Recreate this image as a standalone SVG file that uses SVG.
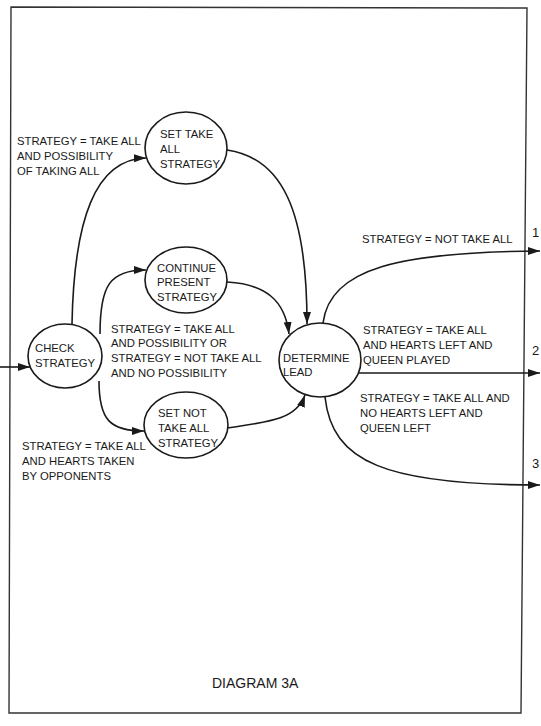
<svg xmlns="http://www.w3.org/2000/svg" width="541" height="726" viewBox="0 0 541 726">
<style>
text{font-family:"Liberation Sans",Arial,sans-serif;font-size:11.3px;fill:#1a1a1a}
.n{fill:#fff;stroke:#1a1a1a;stroke-width:1.6}
.c{fill:none;stroke:#1a1a1a;stroke-width:1.6}
.big{font-size:14px}
.num{font-size:13px}
</style>
<defs>
<marker id="ah" markerUnits="userSpaceOnUse" markerWidth="13" markerHeight="9" refX="12" refY="4" orient="auto">
<path d="M0,0 L12,4 L0,8 z" fill="#1a1a1a"/>
</marker>
</defs>
<rect width="541" height="726" fill="#fff"/>
<polygon points="11,7 527,8 521,713 9,713" fill="none" stroke="#333" stroke-width="1.4"/>
<g id="connectors">
<path class="c" d="M0,367 L30,367" marker-end="url(#ah)"/>
<path class="c" d="M72,324 C74,220 95,159 146,158" marker-end="url(#ah)"/>
<path class="c" d="M227,150 C282,158 307,210 307,324" marker-end="url(#ah)"/>
<path class="c" d="M100,334 C100,285 110,270 146,270" marker-end="url(#ah)"/>
<path class="c" d="M227,282 C265,284 285,300 289,334" marker-end="url(#ah)"/>
<path class="c" d="M99,381 C99,420 110,431 144,431" marker-end="url(#ah)"/>
<path class="c" d="M227,428 C268,422 296,420 305,395" marker-end="url(#ah)"/>
<path class="c" d="M323,323 C330,268 400,252 540,251" marker-end="url(#ah)"/>
<path class="c" d="M359,373 L540,373" marker-end="url(#ah)"/>
<path class="c" d="M325,397 C332,462 385,485 540,485" marker-end="url(#ah)"/>
</g>
<g id="check">
<ellipse class="n" cx="65" cy="356" rx="37" ry="32"/>
<text x="35" y="352">CHECK</text>
<text x="35" y="367">STRATEGY</text>
</g>
<g id="settake">
<ellipse class="n" cx="186" cy="148" rx="41" ry="36"/>
<text x="160" y="138">SET TAKE</text>
<text x="160" y="153">ALL</text>
<text x="160" y="168">STRATEGY</text>
</g>
<g id="continue">
<ellipse class="n" cx="186" cy="280" rx="41" ry="33"/>
<text x="157" y="272">CONTINUE</text>
<text x="157" y="286">PRESENT</text>
<text x="157" y="301">STRATEGY</text>
</g>
<g id="setnot">
<ellipse class="n" cx="186" cy="425" rx="42" ry="33"/>
<text x="158" y="417">SET NOT</text>
<text x="158" y="432">TAKE ALL</text>
<text x="158" y="447">STRATEGY</text>
</g>
<g id="determine">
<ellipse class="n" cx="320" cy="360" rx="41" ry="37"/>
<text x="283" y="362">DETERMINE</text>
<text x="283" y="376">LEAD</text>
</g>
<g id="labels">
<text x="17" y="145">STRATEGY = TAKE ALL</text>
<text x="17" y="160">AND POSSIBILITY</text>
<text x="17" y="175">OF TAKING ALL</text>
<text x="111" y="333">STRATEGY = TAKE ALL</text>
<text x="111" y="347">AND POSSIBILITY OR</text>
<text x="111" y="362">STRATEGY = NOT TAKE ALL</text>
<text x="111" y="377">AND NO POSSIBILITY</text>
<text x="22" y="450">STRATEGY = TAKE ALL</text>
<text x="22" y="465">AND HEARTS TAKEN</text>
<text x="22" y="480">BY OPPONENTS</text>
<text x="362" y="243">STRATEGY = NOT TAKE ALL</text>
<text x="363" y="334">STRATEGY = TAKE ALL</text>
<text x="363" y="349">AND HEARTS LEFT AND</text>
<text x="363" y="364">QUEEN PLAYED</text>
<text x="360" y="402">STRATEGY = TAKE ALL AND</text>
<text x="360" y="417">NO HEARTS LEFT AND</text>
<text x="360" y="432">QUEEN LEFT</text>
<text class="num" x="532" y="237">1</text>
<text class="num" x="532" y="355">2</text>
<text class="num" x="532" y="468">3</text>
<text class="big" x="212" y="688">DIAGRAM 3A</text>
</g>
</svg>
